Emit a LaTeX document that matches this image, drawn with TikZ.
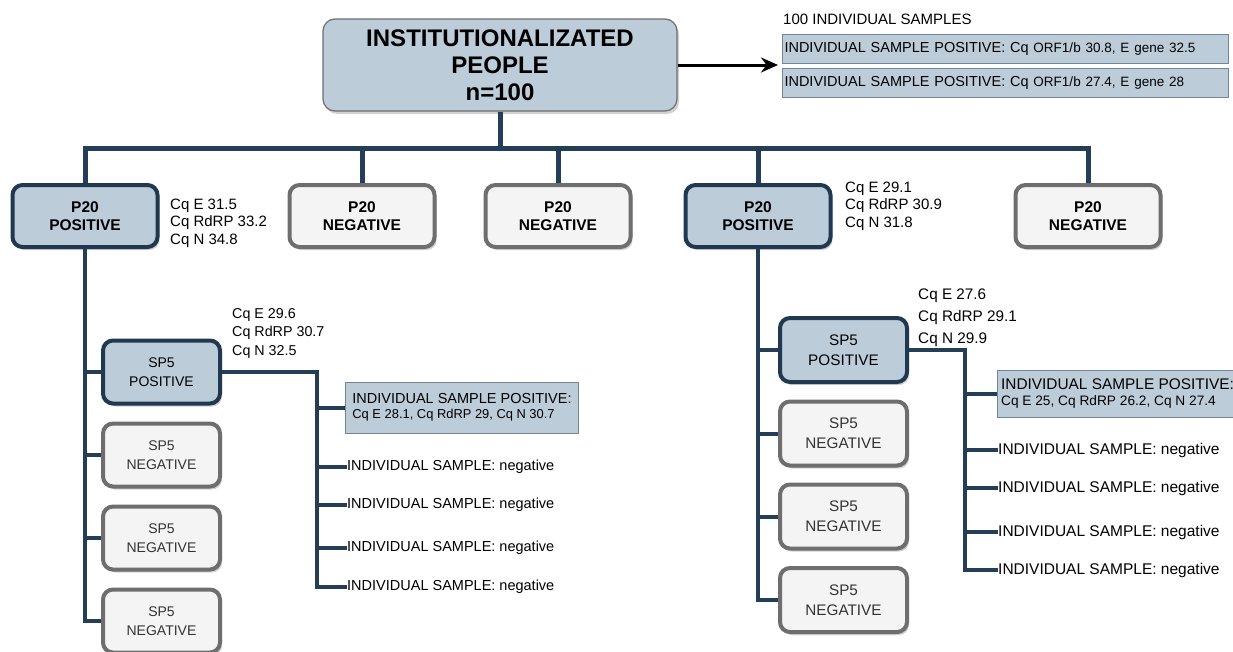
\documentclass[tikz,border=0pt]{standalone}
\usepackage{fontspec}
\setmainfont{Liberation Sans}
\usepackage{tikz}
\usetikzlibrary{positioning,shadows,arrows.meta}
\usepackage{xcolor}
\definecolor{linecol}{RGB}{36,62,88}
\definecolor{posfill}{RGB}{189,204,217}
\definecolor{posdraw}{RGB}{33,57,80}
\definecolor{negfill}{RGB}{244,244,244}
\definecolor{negdraw}{RGB}{110,110,110}
\definecolor{inddraw}{RGB}{112,134,156}

\tikzset{
  boxshadow/.style={drop shadow={shadow xshift=2pt, shadow yshift=-3pt, fill=black, opacity=0.18}},
  topbox/.style={draw=negdraw, fill=posfill, line width=1.2pt, rounded corners=12pt, boxshadow,
    minimum width=354pt, minimum height=92pt, align=center, inner sep=0pt,
    font=\bfseries\fontsize{24}{27}\selectfont},
  posbox/.style={draw=posdraw, fill=posfill, line width=4pt, rounded corners=10pt, boxshadow,
    minimum width=145pt, minimum height=62pt, align=center, inner sep=0pt,
    font=\bfseries\fontsize{15.5}{17.5}\selectfont},
  negbox/.style={posbox, draw=negdraw, fill=negfill},
  sppos/.style={draw=posdraw, fill=posfill, line width=4pt, rounded corners=10pt, boxshadow,
    minimum width=117pt, minimum height=63pt, align=center, inner sep=0pt,
    font=\fontsize{14}{19}\selectfont},
  spneg/.style={sppos, draw=negdraw, fill=negfill, text=black!80},
  indbox/.style={draw=inddraw, fill=posfill, line width=1pt, anchor=west, align=left,
    inner xsep=2pt, inner ysep=0pt, font=\fontsize{14.5}{17}\selectfont},
  cqtext/.style={anchor=west, align=left, inner sep=0pt, font=\fontsize{15}{17.5}\selectfont},
  negtext/.style={anchor=west, inner sep=0pt, font=\fontsize{14.5}{17}\selectfont},
  bus/.style={linecol, line width=5pt},
  link/.style={linecol, line width=4pt},
  arr/.style={black, line width=3pt, -{Stealth[length=17pt,width=15pt]}}
}

\begin{document}
\begin{tikzpicture}[x=1pt,y=-1pt]
    \useasboundingbox (0,0) rectangle (1233,651);

    \coordinate (busy) at (0,148);
    \coordinate (arrend) at (778,65);
    \coordinate (c1) at (317,372);
    \coordinate (c2) at (965,350);

    % top
    \node [topbox] (top) at (500,65) {INSTITUTIONALIZATED\\PEOPLE\\n=100};
    \node [anchor=west, inner sep=0pt, font=\fontsize{15}{17}\selectfont] (hdr) at (783,19) {100 INDIVIDUAL SAMPLES};
    \node [indbox, text width=442pt, minimum height=29pt] (r1) at (782,48.5)
      {INDIVIDUAL SAMPLE POSITIVE: Cq {\fontsize{13.5}{15}\selectfont ORF1/b 30.8, E gene 32.5}};
    \node [indbox, text width=442pt, minimum height=29pt] (r2) at (782,83)
      {INDIVIDUAL SAMPLE POSITIVE: Cq {\fontsize{13.5}{15}\selectfont ORF1/b 27.4, E gene 28}};
    \draw [arr] (top.east) to (arrend);

    % P20 pools
    \node [posbox] (p1) at (85,216) {P20\\POSITIVE};
    \node [negbox] (n1) at (362,216) {P20\\NEGATIVE};
    \node [negbox] (n2) at (558,216) {P20\\NEGATIVE};
    \node [posbox] (p2) at (758,216) {P20\\POSITIVE};
    \node [negbox] (n3) at (1088,216) {P20\\NEGATIVE};

    \node [cqtext] (cq1) at (170,223) {Cq E 31.5\\Cq RdRP 33.2\\Cq N 34.8};
    \node [cqtext] (cq2) at (845,206) {Cq E 29.1\\Cq RdRP 30.9\\Cq N 31.8};

    \draw [bus] (top.south) to (top.south |- busy);
    \draw [bus] (p1.north) -- (p1.north |- busy) -- (n3.north |- busy) -- (n3.north);
    \draw [bus] (n1.north) to (n1.north |- busy);
    \draw [bus] (n2.north) to (n2.north |- busy);
    \draw [bus] (p2.north) to (p2.north |- busy);

    % SP5 pools, left
    \node [sppos] (s1) at (161.5,372) {SP5\\POSITIVE};
    \node [spneg] (s2) at (161.5,455) {SP5\\NEGATIVE};
    \node [spneg] (s3) at (161.5,538) {SP5\\NEGATIVE};
    \node [spneg] (s4) at (161.5,621) {SP5\\NEGATIVE};
    \node [cqtext, font=\fontsize{14.3}{18.5}\selectfont] (cq3) at (232,333) {Cq E 29.6\\Cq RdRP 30.7\\Cq N 32.5};

    \draw [link] (p1.south) |- (s4.west);
    \draw [link] (p1.south |- s1.west) to (s1.west);
    \draw [link] (p1.south |- s2.west) to (s2.west);
    \draw [link] (p1.south |- s3.west) to (s3.west);

    \node [indbox, minimum width=233pt, minimum height=51pt] (i1) at (345,407.5)
      {INDIVIDUAL SAMPLE POSITIVE:\\[-2pt]{\fontsize{12.9}{15}\selectfont Cq E 28.1, Cq RdRP 29, Cq N 30.7}};
    \node [negtext] (t1) at (347,467) {INDIVIDUAL SAMPLE: negative};
    \node [negtext] (t2) at (347,505) {INDIVIDUAL SAMPLE: negative};
    \node [negtext] (t3) at (347,548) {INDIVIDUAL SAMPLE: negative};
    \node [negtext] (t4) at (347,587) {INDIVIDUAL SAMPLE: negative};

    \draw [link] (s1.east) -- (c1) -- (c1 |- t4.west) -- (t4.west);
    \draw [link] (c1 |- i1.west) to (i1.west);
    \draw [link] (c1 |- t1.west) to (t1.west);
    \draw [link] (c1 |- t2.west) to (t2.west);
    \draw [link] (c1 |- t3.west) to (t3.west);

    % SP5 pools, right
    \node [sppos, minimum width=127pt, minimum height=64pt, font=\fontsize{15.3}{20}\selectfont] (s5) at (843.5,350) {SP5\\POSITIVE};
    \node [spneg, minimum width=127pt, minimum height=64pt, font=\fontsize{15.3}{20}\selectfont] (s6) at (843.5,433.5) {SP5\\NEGATIVE};
    \node [spneg, minimum width=127pt, minimum height=64pt, font=\fontsize{15.3}{20}\selectfont] (s7) at (843.5,516.5) {SP5\\NEGATIVE};
    \node [spneg, minimum width=127pt, minimum height=64pt, font=\fontsize{15.3}{20}\selectfont] (s8) at (843.5,600) {SP5\\NEGATIVE};
    \node [cqtext, font=\fontsize{15.3}{22}\selectfont] (cq4) at (918,318) {Cq E 27.6\\Cq RdRP 29.1\\Cq N 29.9};

    \draw [link] (p2.south) |- (s8.west);
    \draw [link] (p2.south |- s5.west) to (s5.west);
    \draw [link] (p2.south |- s6.west) to (s6.west);
    \draw [link] (p2.south |- s7.west) to (s7.west);

    \node [indbox, minimum width=240pt, minimum height=47pt, font=\fontsize{15.4}{17}\selectfont] (i2) at (997,393.5)
      {INDIVIDUAL SAMPLE POSITIVE:\\[-1pt]{\fontsize{13.7}{15}\selectfont Cq E 25, Cq RdRP 26.2, Cq N 27.4}};
    \node [negtext, font=\fontsize{15.5}{17}\selectfont] (t5) at (998,450) {INDIVIDUAL SAMPLE: negative};
    \node [negtext, font=\fontsize{15.5}{17}\selectfont] (t6) at (998,488) {INDIVIDUAL SAMPLE: negative};
    \node [negtext, font=\fontsize{15.5}{17}\selectfont] (t7) at (998,532) {INDIVIDUAL SAMPLE: negative};
    \node [negtext, font=\fontsize{15.5}{17}\selectfont] (t8) at (998,570) {INDIVIDUAL SAMPLE: negative};

    \draw [link] (s5.east) -- (c2) -- (c2 |- t8.west) -- (t8.west);
    \draw [link] (c2 |- i2.west) to (i2.west);
    \draw [link] (c2 |- t5.west) to (t5.west);
    \draw [link] (c2 |- t6.west) to (t6.west);
    \draw [link] (c2 |- t7.west) to (t7.west);
  \end{tikzpicture}
\end{document}
